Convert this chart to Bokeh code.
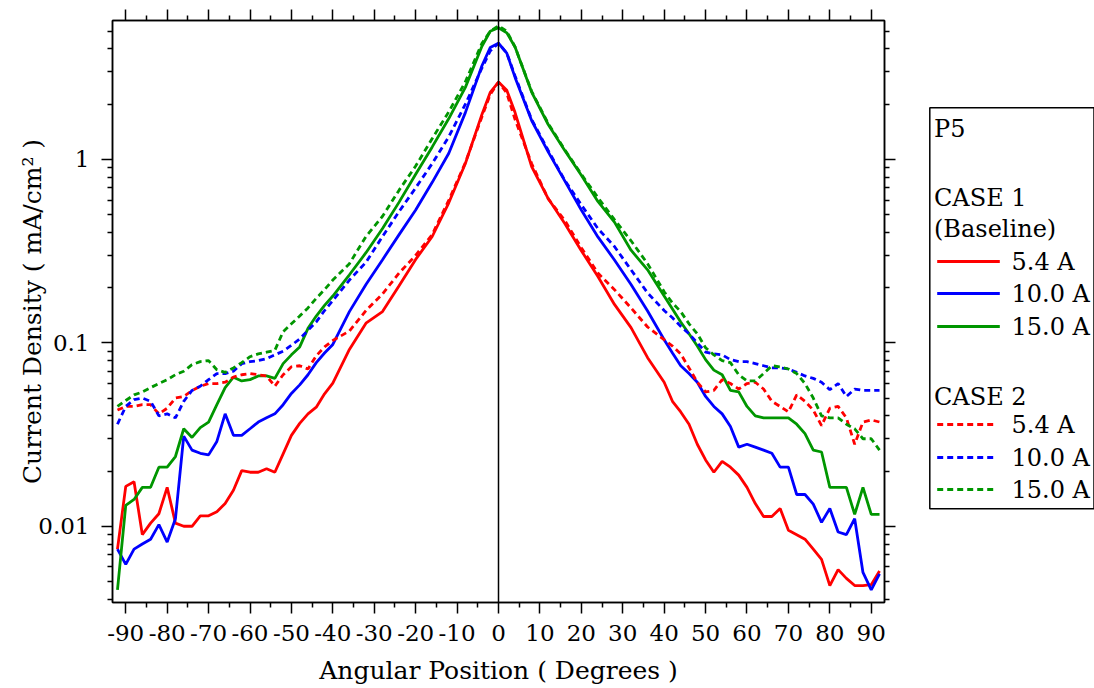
from bokeh.plotting import figure
from bokeh.models import Range1d, FixedTicker, LinearAxis, LogAxis, Span, CustomJSTickFormatter
from bokeh.layouts import row
from bokeh.embed import file_html
from bokeh.resources import INLINE
from bokeh.core.properties import value

# ---------------- data ----------------
angle = [-92, -90, -88, -86, -84, -82, -80, -78, -76, -74, -72, -70, -68, -66, -64, -62, -60, -58, -56, -54,
         -52, -50, -48, -46, -44, -42, -40,
         -36, -32, -28, -24, -20, -16, -12, -8, -4, -2, 0, 2, 4, 8, 12, 16, 20, 24, 28, 32, 36,
         40, 42, 44, 46, 48, 50, 52, 54, 56, 58, 60, 62, 64, 66, 68, 70, 72, 74, 76, 78, 80, 82, 84, 86, 88, 90, 92]

case1_5_4 = [0.0075, 0.0165, 0.0175, 0.0090, 0.0104, 0.0117, 0.0163, 0.0104, 0.0100, 0.0100, 0.0114, 0.0114, 0.0120,
             0.0133, 0.0157, 0.0201, 0.0197, 0.0197, 0.0206, 0.0197, 0.0248, 0.0313, 0.0364, 0.041, 0.0446, 0.0527, 0.0603,
             0.092, 0.128, 0.148, 0.205, 0.285, 0.38, 0.58, 0.95, 1.76, 2.32, 2.64, 2.38, 1.80, 0.915, 0.612, 0.447, 0.318,
             0.23, 0.162, 0.121, 0.083,
             0.061, 0.048, 0.042, 0.036, 0.028, 0.023, 0.0197, 0.0226, 0.021, 0.019, 0.0163, 0.0133, 0.0113, 0.0113,
             0.0125, 0.0095, 0.009, 0.0085, 0.0075, 0.0066, 0.00475, 0.0058, 0.0052, 0.00475, 0.00475, 0.0048, 0.0057]

case1_10_0 = [0.0075, 0.0062, 0.0075, 0.0080, 0.0085, 0.0102, 0.0082, 0.011, 0.031, 0.026, 0.025, 0.0245, 0.029,
              0.041, 0.0313, 0.0313, 0.034, 0.037, 0.039, 0.041, 0.046, 0.053, 0.059, 0.067, 0.078, 0.088, 0.098,
              0.148, 0.208, 0.284, 0.389, 0.53, 0.75, 1.08, 1.80, 3.24, 4.07, 4.30, 3.8, 2.8, 1.63, 1.10, 0.764, 0.53,
              0.378, 0.283, 0.208, 0.149,
              0.104, 0.088, 0.075, 0.068, 0.061, 0.051, 0.045, 0.041, 0.035, 0.027, 0.028, 0.027, 0.026, 0.025,
              0.021, 0.021, 0.0149, 0.0149, 0.0132, 0.0105, 0.0125, 0.0093, 0.0090, 0.011, 0.0056, 0.0045, 0.0055]

case1_15_0 = [0.0045, 0.013, 0.014, 0.0163, 0.0163, 0.021, 0.021, 0.024, 0.034, 0.0305, 0.0345, 0.037, 0.046,
              0.057, 0.065, 0.062, 0.063, 0.066, 0.066, 0.064, 0.077, 0.086, 0.095, 0.12, 0.14, 0.16, 0.18,
              0.235, 0.31, 0.42, 0.585, 0.83, 1.17, 1.67, 2.47, 4.14, 5.0, 5.22, 4.9, 4.1, 2.33, 1.55, 1.12, 0.82,
              0.59, 0.455, 0.32, 0.25,
              0.18, 0.153, 0.13, 0.112, 0.096, 0.081, 0.071, 0.067, 0.055, 0.054, 0.045, 0.040, 0.039, 0.039,
              0.039, 0.039, 0.036, 0.032, 0.026, 0.0254, 0.0163, 0.0163, 0.0163, 0.0116, 0.0163, 0.0116, 0.0116]

case2_5_4 = [0.043, 0.045, 0.045, 0.046, 0.046, 0.041, 0.044, 0.050, 0.051, 0.055, 0.058, 0.060, 0.060, 0.061,
             0.065, 0.067, 0.068, 0.067, 0.066, 0.058, 0.067, 0.074, 0.075, 0.072, 0.085, 0.095, 0.103,
             0.116, 0.15, 0.185, 0.24, 0.30, 0.39, 0.60, 0.96, 1.71, 2.26, 2.64, 2.3, 1.65, 0.95, 0.61, 0.465, 0.33,
             0.24, 0.195, 0.155, 0.122,
             0.104, 0.096, 0.087, 0.073, 0.061, 0.054, 0.055, 0.063, 0.060, 0.056, 0.060, 0.061, 0.056, 0.048,
             0.045, 0.042, 0.052, 0.048, 0.043, 0.0354, 0.044, 0.045, 0.039, 0.028, 0.037, 0.038, 0.037]

case2_10_0 = [0.036, 0.045, 0.049, 0.050, 0.048, 0.040, 0.041, 0.039, 0.048, 0.055, 0.058, 0.063, 0.068, 0.068,
              0.070, 0.077, 0.079, 0.080, 0.082, 0.086, 0.090, 0.097, 0.105, 0.117, 0.13, 0.15, 0.17,
              0.22, 0.275, 0.38, 0.52, 0.70, 0.95, 1.33, 2.0, 3.15, 3.9, 4.3, 3.8, 2.85, 1.65, 1.12, 0.77, 0.565,
              0.42, 0.335, 0.25, 0.187,
              0.15, 0.137, 0.123, 0.112, 0.10, 0.089, 0.087, 0.086, 0.081, 0.079, 0.079, 0.077, 0.075, 0.073,
              0.073, 0.072, 0.069, 0.066, 0.064, 0.061, 0.0555, 0.060, 0.051, 0.056, 0.055, 0.055, 0.055]

case2_15_0 = [0.045, 0.0485, 0.052, 0.054, 0.057, 0.060, 0.063, 0.067, 0.070, 0.076, 0.079, 0.080, 0.0713, 0.069,
              0.073, 0.078, 0.084, 0.087, 0.089, 0.091, 0.115, 0.127, 0.14, 0.155, 0.175, 0.195, 0.22,
              0.27, 0.38, 0.49, 0.68, 0.92, 1.30, 1.82, 2.65, 4.3, 5.0, 5.35, 5.0, 4.1, 2.35, 1.57, 1.13, 0.83,
              0.62, 0.47, 0.36, 0.27,
              0.19, 0.165, 0.148, 0.127, 0.112, 0.094, 0.086, 0.080, 0.078, 0.067, 0.062, 0.062, 0.068, 0.075,
              0.074, 0.072, 0.068, 0.060, 0.050, 0.040, 0.039, 0.039, 0.036, 0.034, 0.030, 0.030, 0.026]

x_major_ticks = [-90, -80, -70, -60, -50, -40, -30, -20, -10, 0, 10, 20, 30, 40, 50, 60, 70, 80, 90]
x_minor_ticks = [-85, -75, -65, -55, -45, -35, -25, -15, -5, 5, 15, 25, 35, 45, 55, 65, 75, 85]
y_major_ticks = [0.01, 0.1, 1]
y_minor_ticks = [0.004, 0.005, 0.006, 0.007, 0.008, 0.009,
                 0.02, 0.03, 0.04, 0.05, 0.06, 0.07, 0.08, 0.09,
                 0.2, 0.3, 0.4, 0.5, 0.6, 0.7, 0.8, 0.9, 2, 3, 4, 5]

series_case1 = [case1_5_4, case1_10_0, case1_15_0]
series_case2 = [case2_5_4, case2_10_0, case2_15_0]
series_colors = ["#ff0000", "#0000ff", "#009600"]
current_labels = ["5.4 A", "10.0 A", "15.0 A"]
legend_title = "P5"
case1_title = ["CASE 1", "(Baseline)"]
case2_title = "CASE 2"
x_title = "Angular Position ( Degrees )"
y_title = "Current Density ( mA/cm\u00b2 )"

FONT = "DejaVu Serif"
TICK_FS = "23px"
TITLE_FS = "25px"
LEG_FS = "24px"
LW = 2.8

# ---------------- main plot ----------------
p = figure(width=920, height=688, x_range=Range1d(-93.2, 93.2), y_range=Range1d(0.00384, 5.72),
           y_axis_type="log", output_backend="svg", toolbar_location=None,
           min_border_left=112, min_border_right=36, min_border_top=20, min_border_bottom=86)
p.grid.visible = False
p.outline_line_color = "black"
p.outline_line_width = 1.5
p.background_fill_color = "white"
p.border_fill_color = "white"

xt = FixedTicker(ticks=x_major_ticks, minor_ticks=x_minor_ticks)
yt = FixedTicker(ticks=y_major_ticks, minor_ticks=y_minor_ticks)
bottom_axis = p.below[0]
left_axis = p.left[0]
bottom_axis.ticker = xt
left_axis.ticker = yt
left_axis.formatter = CustomJSTickFormatter(code="return tick.toString();")
bottom_axis.formatter = CustomJSTickFormatter(code="return tick.toString();")

blank = CustomJSTickFormatter(code="return '';")
top_axis = LinearAxis(ticker=xt, formatter=blank)
right_axis = LogAxis(ticker=yt, formatter=blank)
p.add_layout(top_axis, "above")
p.add_layout(right_axis, "right")

for ax in [bottom_axis, left_axis, top_axis, right_axis]:
    ax.axis_line_color = "black"
    ax.axis_line_width = 1.5
    ax.major_tick_line_color = "black"
    ax.major_tick_line_width = 1.5
    ax.minor_tick_line_color = "black"
    ax.minor_tick_line_width = 1.5
    ax.major_tick_in = 0
    ax.major_tick_out = 11
    ax.minor_tick_in = 0
    ax.minor_tick_out = 5
    ax.major_label_text_font = FONT
    ax.major_label_text_font_size = TICK_FS
    ax.major_label_text_color = "black"
    ax.axis_label_text_font = FONT
    ax.axis_label_text_font_size = TITLE_FS
    ax.axis_label_text_font_style = "normal"
    ax.axis_label_text_color = "black"

for ax in [top_axis, right_axis]:
    ax.major_label_standoff = 0

bottom_axis.axis_label = x_title
left_axis.axis_label = y_title
bottom_axis.major_label_standoff = 11
left_axis.major_label_standoff = 12
bottom_axis.axis_label_standoff = 12
left_axis.axis_label_standoff = -12

for ys, c in zip(series_case1, series_colors):
    p.line(angle, ys, line_color=c, line_width=LW)
for ys, c in zip(series_case2, series_colors):
    p.line(angle, ys, line_color=c, line_width=LW, line_dash="6 4")

p.add_layout(Span(location=0, dimension="height", line_color="black", line_width=1.5))

# ---------------- legend panel (frame aligned with the main plot: 20..602 px) ----------------
leg = figure(width=174, height=688, x_range=Range1d(0, 174), y_range=Range1d(602, 20),
             output_backend="svg", toolbar_location=None,
             min_border_left=0, min_border_right=0, min_border_top=20, min_border_bottom=86,
             x_axis_location=None, y_axis_location=None)
leg.grid.visible = False
leg.outline_line_color = None
leg.background_fill_color = "white"
leg.border_fill_color = "white"

leg.quad(left=[9.3], right=[173.5], top=[107.3], bottom=[508.3], fill_color=None,
         line_color="black", line_width=1.5)

solid_rows = [261, 293, 326]
dash_rows = [424, 457, 489]
for yy, c in zip(solid_rows, series_colors):
    leg.line([16.7, 79.3], [yy, yy], line_color=c, line_width=LW)
for yy, c in zip(dash_rows, series_colors):
    leg.line([16.7, 75.0], [yy, yy], line_color=c, line_width=LW, line_dash="6 4")

head_text = [legend_title] + case1_title + [case2_title]
head_y = [128, 197, 228, 396]
leg.text(x=[13.5] * len(head_text), y=head_y, text=head_text, text_font=value(FONT),
         text_font_size=LEG_FS, text_baseline="middle", text_color="black")
item_text = current_labels + current_labels
item_y = solid_rows + dash_rows
leg.text(x=[91] * len(item_text), y=item_y, text=item_text, text_font=value(FONT),
         text_font_size=LEG_FS, text_baseline="middle", text_color="black")

layout = row(p, leg)
open("out.html", "w").write(file_html(layout, INLINE))
